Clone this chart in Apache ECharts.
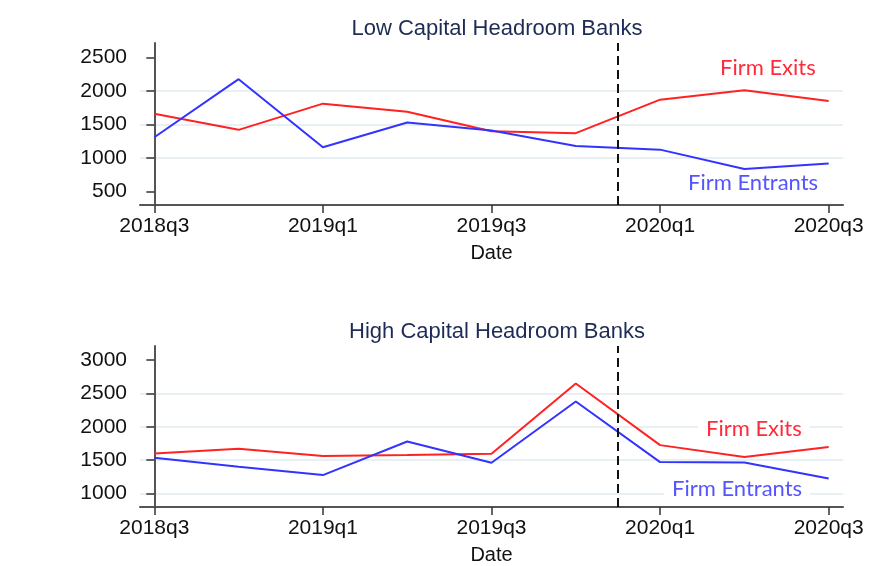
<!DOCTYPE html>
<html>
<head>
<meta charset="utf-8">
<script src="https://cdn.jsdelivr.net/npm/echarts@6/dist/echarts.min.js"></script>
<style>
html,body{margin:0;padding:0;background:#fff;}
#chart{width:870px;height:566px;}
</style>
</head>
<body>
<div id="chart"></div>
<script>
// ---- data ----
const quarters = ['2018q3','2018q4','2019q1','2019q2','2019q3','2019q4','2020q1','2020q2','2020q3'];
const xTickIdx = [0, 2, 4, 6, 8];
const lowExits     = [1660, 1420, 1810, 1690, 1400, 1370, 1870, 2010, 1850];
const lowEntrants  = [1310, 2175, 1160, 1530, 1410, 1180, 1125, 835, 920];
const highExits    = [1600, 1670, 1560, 1575, 1595, 2650, 1725, 1545, 1695];
const highEntrants = [1535, 1400, 1275, 1780, 1460, 2380, 1470, 1465, 1225];
const lowYTicks  = [500, 1000, 1500, 2000, 2500];
const highYTicks = [1000, 1500, 2000, 2500, 3000];
const lowGrid  = [1000, 1500, 2000];
const highGrid = [1000, 1500, 2000, 2500];
const policyX = 5.5; // between 2019q4 and 2020q1
const titles = ['Low Capital Headroom Banks', 'High Capital Headroom Banks'];
const xTitle = 'Date';

const pairs = arr => arr.map((v, i) => [i, v]);

const RED = '#ff2222', BLUE = '#3333ff';
const AXIS = '#555';
const TICKFONT = {fontFamily: 'Liberation Sans', fontSize: 21, color: '#111'};

function xAxis(gi) {
  return {
    type: 'value', gridIndex: gi, min: -0.17, max: 8.17,
    name: xTitle, nameLocation: 'middle', nameGap: 38,
    nameTextStyle: {fontFamily: 'Liberation Sans', fontSize: 20, color: '#111'},
    axisLine: {show: true, lineStyle: {color: AXIS, width: 2}},
    axisTick: {show: true, length: 8, customValues: xTickIdx, lineStyle: {color: '#333', width: 1.5}},
    axisLabel: Object.assign({customValues: xTickIdx, formatter: v => quarters[Math.round(v)], margin: 11}, TICKFONT),
    splitLine: {show: false}
  };
}
function yAxis(gi, min, max, ticks) {
  return {
    type: 'value', gridIndex: gi, min: min, max: max,
    axisLine: {show: true, lineStyle: {color: AXIS, width: 2}},
    axisTick: {show: true, length: 8, customValues: ticks, lineStyle: {color: '#333', width: 1.5}},
    axisLabel: Object.assign({customValues: ticks, margin: 13, formatter: v => String(v)}, TICKFONT),
    splitLine: {show: false}
  };
}
function gridSeries(gi, vals) {
  return {
    type: 'line', xAxisIndex: gi, yAxisIndex: gi, data: [], z: 1, zlevel: 0, silent: true,
    markLine: {silent: true, z: 0, symbol: 'none', label: {show: false},
      lineStyle: {color: '#e8f0f3', width: 2, type: 'solid'},
      data: vals.map(v => ({yAxis: v}))}
  };
}
function dashSeries(gi) {
  return {
    type: 'line', xAxisIndex: gi, yAxisIndex: gi, data: [], z: 4, silent: true,
    markLine: {silent: true, z: 6, symbol: 'none', label: {show: false},
      lineStyle: {color: '#111', width: 2, type: [9, 5]},
      data: [{xAxis: policyX}]}
  };
}
function lineSeries(gi, name, data, color) {
  return {
    type: 'line', name: name, xAxisIndex: gi, yAxisIndex: gi, data: pairs(data),
    symbol: 'none', z: 3, lineStyle: {color: color, width: 2}, itemStyle: {color: color}
  };
}

const titleStyle = {fontFamily: 'Liberation Sans', fontSize: 22, fontWeight: 'normal', color: '#1e2c55'};
const legStyle = (color) => ({fontFamily: 'Lato', fontSize: 22, fill: color, backgroundColor: '#fff'});

const chart = echarts.init(document.getElementById('chart'), null, {renderer: 'canvas'});
chart.setOption({
  animation: false,
  backgroundColor: '#fff',
  title: [
    {text: titles[0], left: 492, top: 13, textAlign: 'center', textStyle: titleStyle},
    {text: titles[1], left: 492, top: 316, textAlign: 'center', textStyle: titleStyle}
  ],
  grid: [
    {left: 140, right: 27, top: 43, height: 162},
    {left: 140, right: 27, top: 346, height: 162}
  ],
  xAxis: [xAxis(0), xAxis(1)],
  yAxis: [yAxis(0, 300, 2714, lowYTicks), yAxis(1, 796, 3213, highYTicks)],
  series: [
    gridSeries(0, lowGrid), gridSeries(1, highGrid),
    lineSeries(0, 'Firm Exits', lowExits, RED),
    lineSeries(0, 'Firm Entrants', lowEntrants, BLUE),
    lineSeries(1, 'Firm Exits', highExits, RED),
    lineSeries(1, 'Firm Entrants', highEntrants, BLUE),
    dashSeries(0), dashSeries(1)
  ],
  graphic: [
    {type: 'text', left: 720, top: 57, z: 10, style: Object.assign({text: 'Firm Exits'}, legStyle('#ff2a3a'))},
    {type: 'text', left: 688, top: 172, z: 10, style: Object.assign({text: 'Firm Entrants'}, legStyle('#5555ff'))},
    {type: 'text', left: 698, top: 418, z: 10, style: Object.assign({text: 'Firm Exits', padding: [0, 8]}, legStyle('#ff2a3a'))},
    {type: 'text', left: 664, top: 478, z: 10, style: Object.assign({text: 'Firm Entrants', padding: [0, 8]}, legStyle('#5555ff'))}
  ]
});
</script>
</body>
</html>
